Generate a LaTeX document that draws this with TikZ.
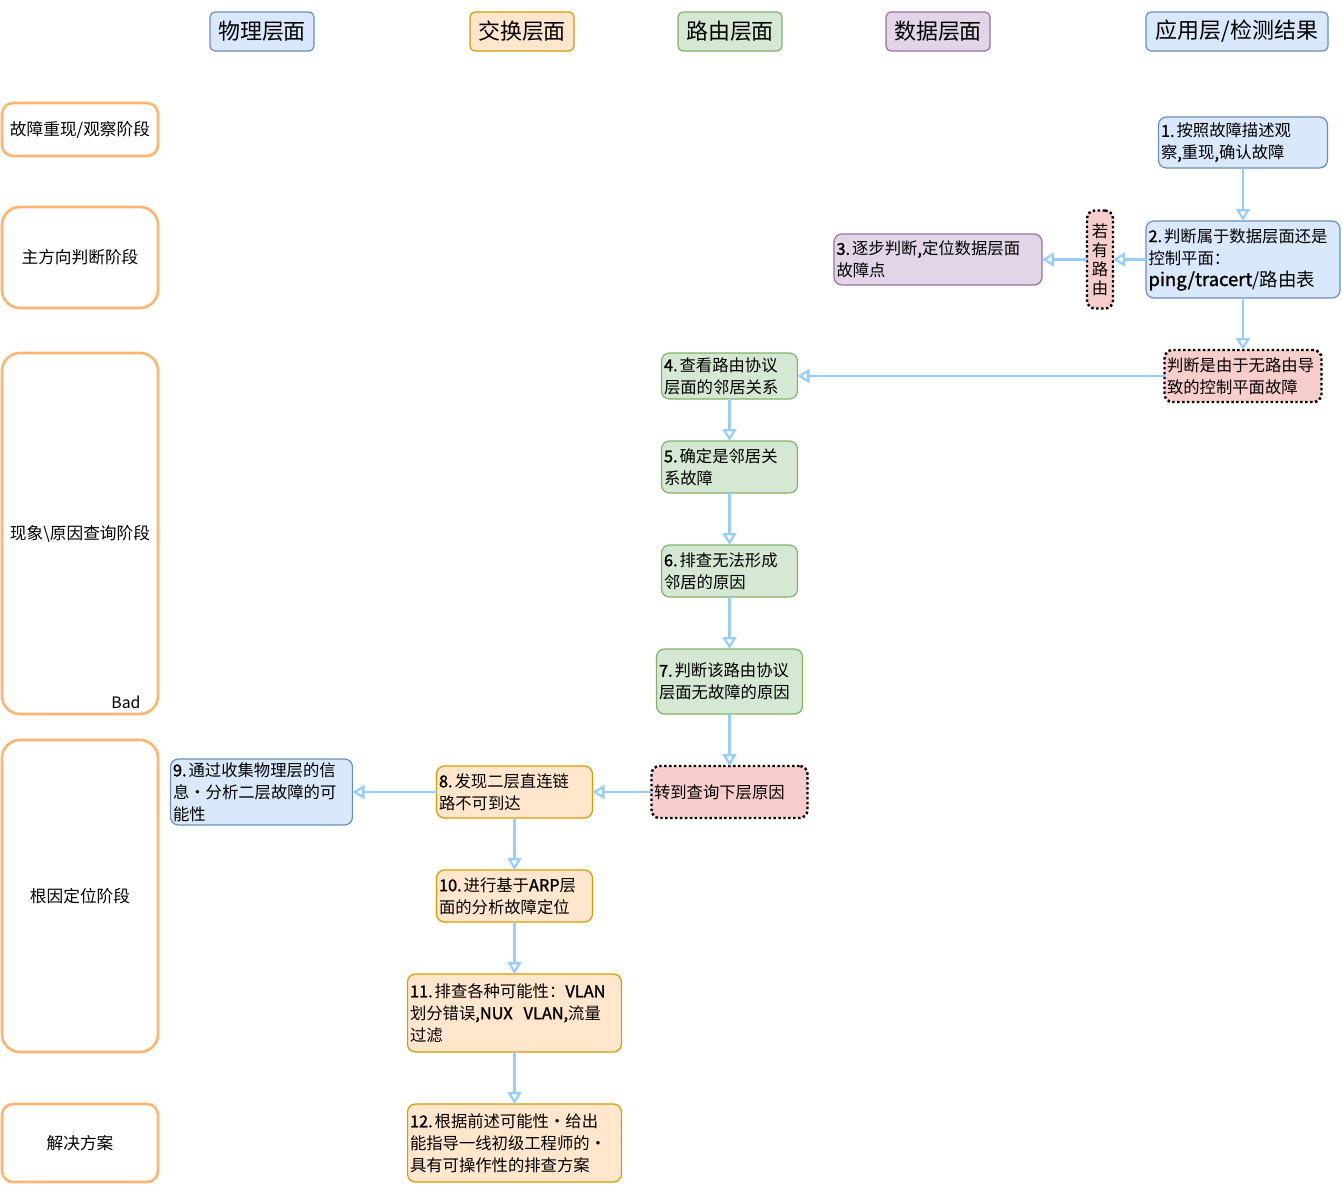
\documentclass[tikz,border=0pt]{standalone}
\usepackage{fontspec}
\newfontfamily\cjk{Noto Sans CJK SC}[AutoFakeBold=1.5]
\usepackage{tikz}
\usetikzlibrary{arrows.meta,positioning}

\definecolor{physfill}{HTML}{DAE8FC}
\definecolor{physline}{HTML}{6C8EBF}
\definecolor{swchfill}{HTML}{FFE6CC}
\definecolor{swchline}{HTML}{D79B00}
\definecolor{routfill}{HTML}{D5E8D4}
\definecolor{routline}{HTML}{82B366}
\definecolor{datafill}{HTML}{E1D5E7}
\definecolor{dataline}{HTML}{9673A6}
\definecolor{hintfill}{HTML}{F8CECC}
\definecolor{phaseline}{HTML}{FFB570}
\definecolor{flowline}{HTML}{99CCFF}

% step number in front of each step text
\newcommand{\stepno}[1]{\textbf{#1.}\hspace{0.04cm}}

\tikzset{
    %Define standard arrow tip
    >={Triangle[open,length=0.24cm,width=0.28cm]},
    every edge/.style={draw=flowline, line width=1.3pt},
    layer/.style={
      rectangle,
      rounded corners=0.1cm,
      line width=0.7pt,
      minimum width=2.08cm,
      minimum height=0.78cm,
      font=\cjk\fontsize{12.5pt}{14pt}\selectfont},
    phase/.style={
      rectangle,
      rounded corners=0.36cm,
      draw=phaseline, line width=1.5pt,
      minimum width=3.12cm,
      text centered,
      font=\cjk\fontsize{9.5pt}{12.5pt}\selectfont},
    punkt/.style={
      rectangle,
      rounded corners=0.16cm,
      line width=0.7pt,
      inner xsep=0.05cm, inner ysep=0pt, outer sep=0pt,
      align=left,
      font=\cjk\fontsize{9.3pt}{12.5pt}\selectfont},
    physbox/.style={punkt, draw=physline, fill=physfill},
    swchbox/.style={punkt, draw=swchline, fill=swchfill},
    routbox/.style={punkt, draw=routline, fill=routfill},
    databox/.style={punkt, draw=dataline, fill=datafill},
    hintbox/.style={punkt, draw=black, fill=hintfill,
      line width=1.4pt, dash pattern=on 1.4pt off 1.4pt},
}

\begin{document}
\begin{tikzpicture}[node distance=1.04cm]
    \useasboundingbox (0,0) rectangle (26.84,-23.92);
    % layer headers
    \node (phys) [layer, draw=physline, fill=physfill] at (5.24,-0.63) {物理层面};
    \node (swch) [layer, draw=swchline, fill=swchfill] at (10.44,-0.63) {交换层面};
    \node (rout) [layer, draw=routline, fill=routfill] at (14.6,-0.63) {路由层面};
    \node (data) [layer, draw=dataline, fill=datafill] at (18.76,-0.63) {数据层面};
    \node (appl) [layer, draw=physline, fill=physfill, minimum width=3.64cm] at (24.74,-0.63)
          {应用层/检测结果};
    % phases
    \node (observe) [phase, rounded corners=0.22cm, minimum height=1.06cm] at (1.6,-2.59)
          {故障重现/观察阶段};
    \node (judge) [phase, minimum height=2.02cm] at (1.6,-5.15)
          {主方向判断阶段};
    \node (query) [phase, minimum height=7.22cm] at (1.6,-10.67)
          {现象\textbackslash 原因查询阶段};
    \node (badnote) [font=\cjk\fontsize{9pt}{11pt}\selectfont] at (2.52,-14.04) {Bad};
    \node (rootcause) [phase, minimum height=6.24cm] at (1.6,-17.92)
          {根因定位阶段};
    \node (solution) [phase, rounded corners=0.22cm, minimum height=1.56cm] at (1.6,-22.86)
          {解决方案};
    % steps
    \node (step1) [physbox, text width=3.28cm, minimum height=1.02cm] at (24.86,-2.85)
          {\stepno{1}按照故障描述观\\察\textbf{,}重现\textbf{,}确认故障};
    \node (step2) [physbox, text width=3.78cm, minimum height=1.54cm] [below=1.06cm of step1]
          {\stepno{2}判断属于数据层面还是\\控制平面：\\{\fontsize{10.5pt}{12.5pt}\selectfont\textbf{ping/tracert}/路由表}}
          edge [<-] (step1);
    \node (route) [hintbox, text width=0.42cm, minimum height=1.96cm, align=center,
                   font=\cjk\fontsize{9.3pt}{10.8pt}\selectfont] [left=0.66cm of step2]
          {若\\有\\路\\由}
          edge [<-] (step2);
    \node (step3) [databox, text width=4.06cm, minimum height=1.02cm] [left=0.9cm of route]
          {\stepno{3}逐步判断\textbf{,}定位数据层面\\故障点}
          edge [<-] (route);
    \node (ctrl) [hintbox, text width=3.04cm, minimum height=1.04cm] [below=1.04cm of step2]
          {判断是由于无路由导\\致的控制平面故障}
          edge [<-] (step2);
    \node (step4) [routbox, text width=2.62cm, minimum height=0.92cm] [left=7.34cm of ctrl]
          {\stepno{4}查看路由协议\\层面的邻居关系}
          edge [<-] (ctrl);
    \node (step5) [routbox, text width=2.62cm, minimum height=1.04cm] [below=0.84cm of step4]
          {\stepno{5}确定是邻居关\\系故障}
          edge [<-] (step4);
    \node (step6) [routbox, text width=2.62cm, minimum height=1.04cm] [below=of step5]
          {\stepno{6}排查无法形成\\邻居的原因}
          edge [<-] (step5);
    \node (step7) [routbox, text width=2.82cm, minimum height=1.3cm] [below=of step6]
          {\stepno{7}判断该路由协议\\层面无故障的原因}
          edge [<-] (step6);
    \node (lower) [hintbox, text width=3.02cm, minimum height=1.04cm] [below=of step7]
          {转到查询下层原因}
          edge [<-] (step7);
    \node (step8) [swchbox, text width=3.02cm, minimum height=1.04cm] [left=1.18cm of lower]
          {\stepno{8}发现二层直连链\\路不可到达}
          edge [<-] (lower);
    \node (step9) [physbox, text width=3.54cm, minimum height=1.32cm] [left=1.68cm of step8]
          {\stepno{9}通过收集物理层的信\\息・分析二层故障的可\\能性}
          edge [<-] (step8);
    \node (step10) [swchbox, text width=3.02cm, minimum height=1.04cm] [below=of step8]
          {\stepno{10}进行基于\textbf{ARP}层\\面的分析故障定位}
          edge [<-] (step8);
    \node (step11) [swchbox, text width=4.18cm, minimum height=1.56cm] [below=of step10]
          {\stepno{11}排查各种可能性：\textbf{VLAN}\\划分错误\textbf{,NUX\ \ VLAN,}流量\\过滤}
          edge [<-] (step10);
    \node (step12) [swchbox, text width=4.18cm, minimum height=1.56cm] [below=of step11]
          {\stepno{12}根据前述可能性・给出\\能指导一线初级工程师的・\\具有可操作性的排查方案}
          edge [<-] (step11);
\end{tikzpicture}
\end{document}
